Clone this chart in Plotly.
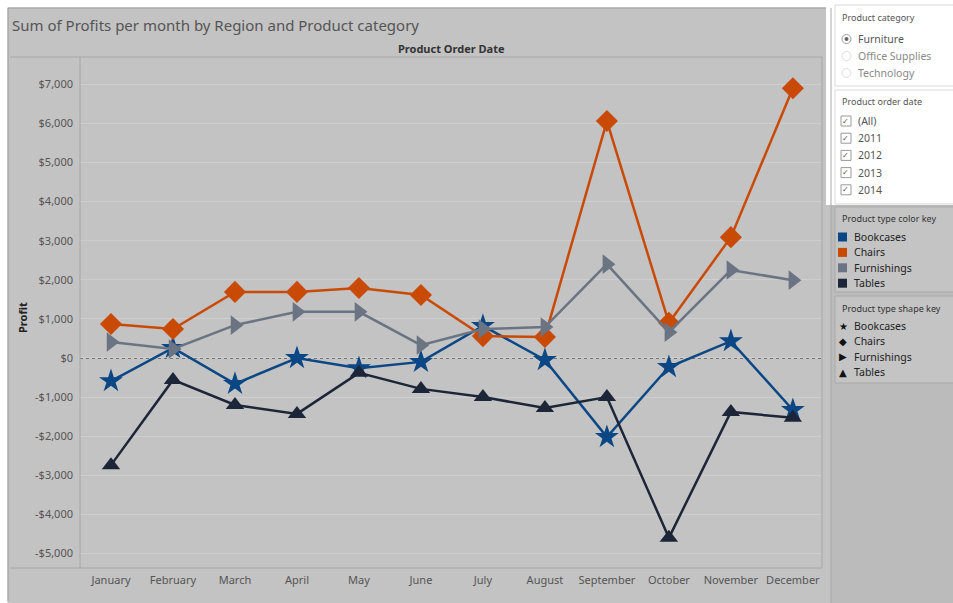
import plotly.graph_objects as go

months = ["January", "February", "March", "April", "May", "June", "July",
          "August", "September", "October", "November", "December"]
bookcases = [-590, 260, -660, 0, -260, -100, 820, -50, -2020, -230, 430, -1330]
chairs = [870, 740, 1690, 1690, 1790, 1610, 560, 540, 6060, 900, 3090, 6900]
furnishings = [410, 230, 840, 1180, 1180, 330, 740, 790, 2400, 660, 2250, 1990]
tables = [-2740, -560, -1200, -1430, -380, -790, -1000, -1280, -1000, -4600, -1380, -1530]

series_names = ["Bookcases", "Chairs", "Furnishings", "Tables"]
series_colors = ["#0a4784", "#c94a05", "#6b7483", "#1d2638"]
series_symbols = ["star", "diamond", "triangle-right", "triangle-up"]
series_sizes = [18, 17, 17, 16]
series_values = [bookcases, chairs, furnishings, tables]

y_ticks = list(range(-5000, 8000, 1000))
y_ticktext = [("-$" if v < 0 else "$") + f"{abs(v):,}" for v in y_ticks]

category_items = ["Furniture", "Office Supplies", "Technology"]
date_items = ["(All)", "2011", "2012", "2013", "2014"]
shape_chars = ["★", "◆", "▶", "▲"]

# body margin is removed by the post script; figure sits at (0, 0)
W, H = 953, 603
BG = "#c3c3c3"
FONT = "Noto Sans"

# plot area in page pixels
L, R, T, B = 80, 822, 57, 568

fig = go.Figure()
x_idx = list(range(len(months)))
for name, color, sym, size, vals in zip(series_names, series_colors, series_symbols,
                                        series_sizes, series_values):
    fig.add_trace(go.Scatter(
        x=x_idx, y=vals, mode="lines+markers", name=name,
        line=dict(color=color, width=2.5),
        marker=dict(symbol=sym, size=size, color=color),
        showlegend=False, cliponaxis=False, hoverinfo="skip"))


def px(x):
    return (x - L) / (R - L)


def py(y):
    return (B - y) / (B - T)


shapes = []
annotations = []


def hline(x0, x1, y, color, width=1):
    shapes.append(dict(type="line", xref="paper", yref="paper", x0=px(x0), x1=px(x1),
                       y0=py(y), y1=py(y), line=dict(color=color, width=width)))


def vline(x, y0, y1, color, width=1):
    shapes.append(dict(type="line", xref="paper", yref="paper", x0=px(x), x1=px(x),
                       y0=py(y0), y1=py(y1), line=dict(color=color, width=width)))


def rect(x0, x1, y0, y1, fill, line_color=None, layer="above"):
    shapes.append(dict(type="rect", xref="paper", yref="paper", x0=px(x0), x1=px(x1),
                       y0=py(y1), y1=py(y0), fillcolor=fill, layer=layer,
                       line=dict(color=line_color or fill, width=1 if line_color else 0)))


def text(s, x, y, size=11, color="#555555", anchor="left", family=FONT, angle=0):
    annotations.append(dict(text=s, xref="paper", yref="paper", x=px(x), y=py(y),
                            xanchor=anchor, yanchor="middle", showarrow=False, textangle=angle,
                            font=dict(family=family, size=size, color=color)))


# white page border (top and left)
rect(0, 953, 0, 7.5, "#ffffff", layer="below")
rect(0, 7.5, 0, 603, "#ffffff", layer="below")
# right panel darker area
rect(831, 953, 7.5, 603, "#bbbbbb", layer="below")
vline(831, 8, 603, "#a9a9a9")
# white filter area
rect(826, 953, 0, 205, "#ffffff", layer="below")
# frame lines
vline(8, 8, 601, "#9a9a9a")
hline(8, 826, 8, "#9a9a9a")
hline(10, R, T, "#a6a6a6")
hline(10, R, B, "#a6a6a6")
vline(R, T, B, "#a6a6a6")
vline(L, T, B, "#a6a6a6")
# zero reference line
shapes.append(dict(type="line", xref="paper", yref="y", x0=0, x1=1, y0=0, y1=0,
                   line=dict(color="#222222", width=1, dash="dot"), layer="below"))

# title texts
text("Sum of Profits per month by Region and Product category", 10, 25, size=15, color="#555555")
text("<b>Product Order Date</b>", 451, 48, size=11, color="#333333", anchor="center")
text("<b>Profit</b>", 22, 318, size=11, color="#222222", anchor="center", angle=-90)

# filter panels (white)
rect(835, 960, 5, 86, "#ffffff", "#d9d9d9")
rect(835, 960, 90, 204, "#ffffff", "#d9d9d9")
text("Product category", 840, 18, size=9, color="#555555")
for i, item in enumerate(category_items):
    yy = 39 + i * 17
    shapes.append(dict(type="circle", xref="paper", yref="paper", x0=px(842), x1=px(851),
                       y0=py(yy + 4.5), y1=py(yy - 4.5), fillcolor="#ffffff",
                       line=dict(color="#999999" if i == 0 else "#dddddd", width=1)))
    if i == 0:
        shapes.append(dict(type="circle", xref="paper", yref="paper", x0=px(844.5), x1=px(848.5),
                           y0=py(yy + 2), y1=py(yy - 2), fillcolor="#666666", line=dict(width=0)))
    text(item, 856, yy, size=10.5, color="#555555" if i == 0 else "#888888")
text("Product order date", 840, 101, size=9, color="#555555")
for i, item in enumerate(date_items):
    yy = 121 + i * 17.2
    rect(841, 851, yy - 5, yy + 5, "#ffffff", "#999999")
    text("✓", 846, yy, size=8, color="#555555", anchor="center", family="DejaVu Sans")
    text(item, 856, yy, size=10.5, color="#555555")

# key panels
rect(835, 960, 207, 292, "#c4c4c4", "#a9a9a9")
rect(835, 960, 296, 383, "#c4c4c4", "#a9a9a9")
text("Product type color key", 840, 218, size=9, color="#333333")
for i, (name, color) in enumerate(zip(series_names, series_colors)):
    yy = 237 + i * 15.4
    rect(838, 847, yy - 4.5, yy + 4.5, color)
    text(name, 852, yy, size=10.5, color="#222222")
text("Product type shape key", 840, 308, size=9, color="#333333")
for i, (name, ch) in enumerate(zip(series_names, shape_chars)):
    yy = 326 + i * 15.4
    text(ch, 843, yy, size=10, color="#111111", anchor="center", family="DejaVu Sans")
    text(name, 852, yy, size=10.5, color="#222222")

fig.update_layout(
    width=W, height=H,
    margin=dict(l=L, r=W - R, t=T, b=H - B),
    paper_bgcolor=BG, plot_bgcolor=BG,
    font=dict(family=FONT, size=11, color="#555555"),
    shapes=shapes, annotations=annotations,
    xaxis=dict(range=[-0.5, 11.47], tickvals=x_idx, ticktext=months, showgrid=False,
               zeroline=False, showline=False, ticks="", tickfont=dict(size=11, color="#555555"),
               ticklabelstandoff=4, fixedrange=True),
    yaxis=dict(range=[-5371, 7698], tickvals=y_ticks, ticktext=y_ticktext, showgrid=True,
               gridcolor="#cecece", gridwidth=1, zeroline=False, showline=False, ticks="",
               tickfont=dict(size=11, color="#555555"), ticklabelstandoff=6, fixedrange=True),
)

fig.write_html("out.html", config={"displayModeBar": False},
               post_script="document.body.style.margin='0';document.body.style.overflow='hidden';")
